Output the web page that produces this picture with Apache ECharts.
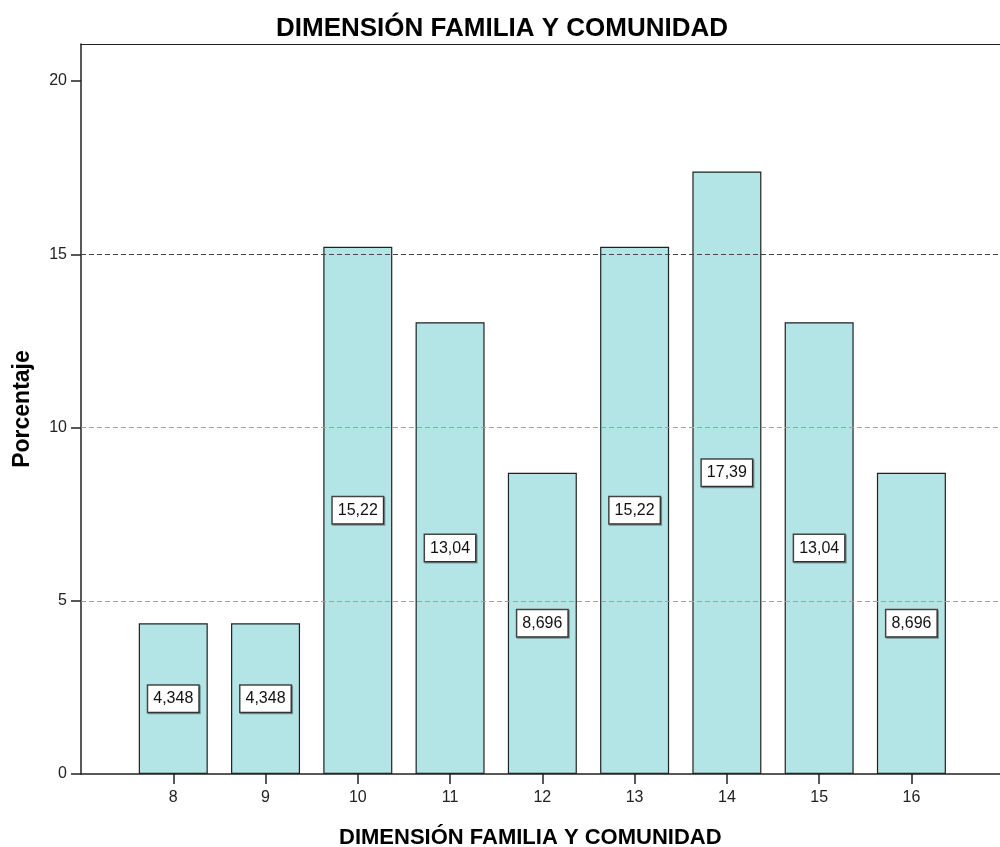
<!DOCTYPE html>
<html>
<head>
<meta charset="utf-8">
<script src="https://cdn.jsdelivr.net/npm/echarts@6/dist/echarts.min.js"></script>
<style>html,body{margin:0;padding:0;background:#fff}#c{width:1000px;height:847px}</style>
</head>
<body>
<div id="c"></div>
<script>
var categories = [8, 9, 10, 11, 12, 13, 14, 15, 16];
var percents = [4.348, 4.348, 15.22, 13.04, 8.696, 15.22, 17.39, 13.04, 8.696];
var valueLabels = ["4,348", "4,348", "15,22", "13,04", "8,696", "15,22", "17,39", "13,04", "8,696"];
var yTicks = [0, 5, 10, 15, 20];
var gridValues = [5, 10, 15];
var gridColors = ["#a0a0a0", "#a0a0a0", "#444444"];

var chart = echarts.init(document.getElementById('c'));
var font = 'Liberation Sans, Arial, sans-serif';
var data = categories.map(function (c, i) { return [c, percents[i]]; });

chart.setOption({
  animation: false,
  title: [
    { text: 'DIMENSIÓN FAMILIA Y COMUNIDAD', left: 271, top: 11,
      textStyle: { fontFamily: font, fontSize: 26, fontWeight: 'bold', color: '#000' } },
    { text: 'DIMENSIÓN FAMILIA Y COMUNIDAD', left: 334, top: 822,
      textStyle: { fontFamily: font, fontSize: 22, fontWeight: 'bold', color: '#000' } }
  ],
  grid: { left: 81, right: 0, top: 44, bottom: 73, show: false },
  xAxis: [{
    type: 'value', min: 7, max: 16.96, interval: 1,
    axisLine: { show: true, lineStyle: { color: '#222', width: 1.5 } },
    axisTick: { show: true, length: 10, customValues: categories, lineStyle: { color: '#222', width: 1.5 } },
    axisLabel: { customValues: categories, margin: 16, fontFamily: font, fontSize: 16, color: '#222' },
    splitLine: { show: false }
  }, {
    type: 'value', position: 'top', min: 7, max: 16.96,
    axisLine: { show: true, lineStyle: { color: '#222', width: 1.2 } },
    axisTick: { show: false }, axisLabel: { show: false }, splitLine: { show: false }
  }],
  yAxis: {
    type: 'value', min: 0, max: 21.07, interval: 5,
    name: 'Porcentaje', nameLocation: 'middle', nameGap: 47,
    nameTextStyle: { fontFamily: font, fontSize: 23, fontWeight: 'bold', color: '#000' },
    axisLine: { show: true, lineStyle: { color: '#222', width: 1.5 } },
    axisTick: { show: true, length: 10, customValues: yTicks, lineStyle: { color: '#222', width: 1.5 } },
    axisLabel: { customValues: yTicks, margin: 14, fontFamily: font, fontSize: 16, color: '#222' },
    splitLine: { show: false }
  },
  series: [{
    type: 'bar',
    xAxisIndex: 0,
    data: data,
    barWidth: 69,
    itemStyle: { color: '#b3e5e6', borderColor: '#222', borderWidth: 1.2 },
    label: {
      show: true, position: 'inside',
      formatter: function (p) { return valueLabels[p.dataIndex]; },
      fontFamily: font, fontSize: 16, color: '#111',
      backgroundColor: '#fff', borderColor: '#444', borderWidth: 1.5,
      padding: [5, 5, 5, 5],
      shadowColor: 'rgba(0,0,0,0.35)', shadowOffsetX: 1, shadowOffsetY: 1, shadowBlur: 0
    },
    markLine: {
      silent: true, symbol: 'none', label: { show: false },
      data: gridValues.map(function (v, i) {
        return { yAxis: v, lineStyle: { color: gridColors[i], type: [5, 3], width: 1.2 } };
      })
    }
  }]
});
</script>
</body>
</html>
